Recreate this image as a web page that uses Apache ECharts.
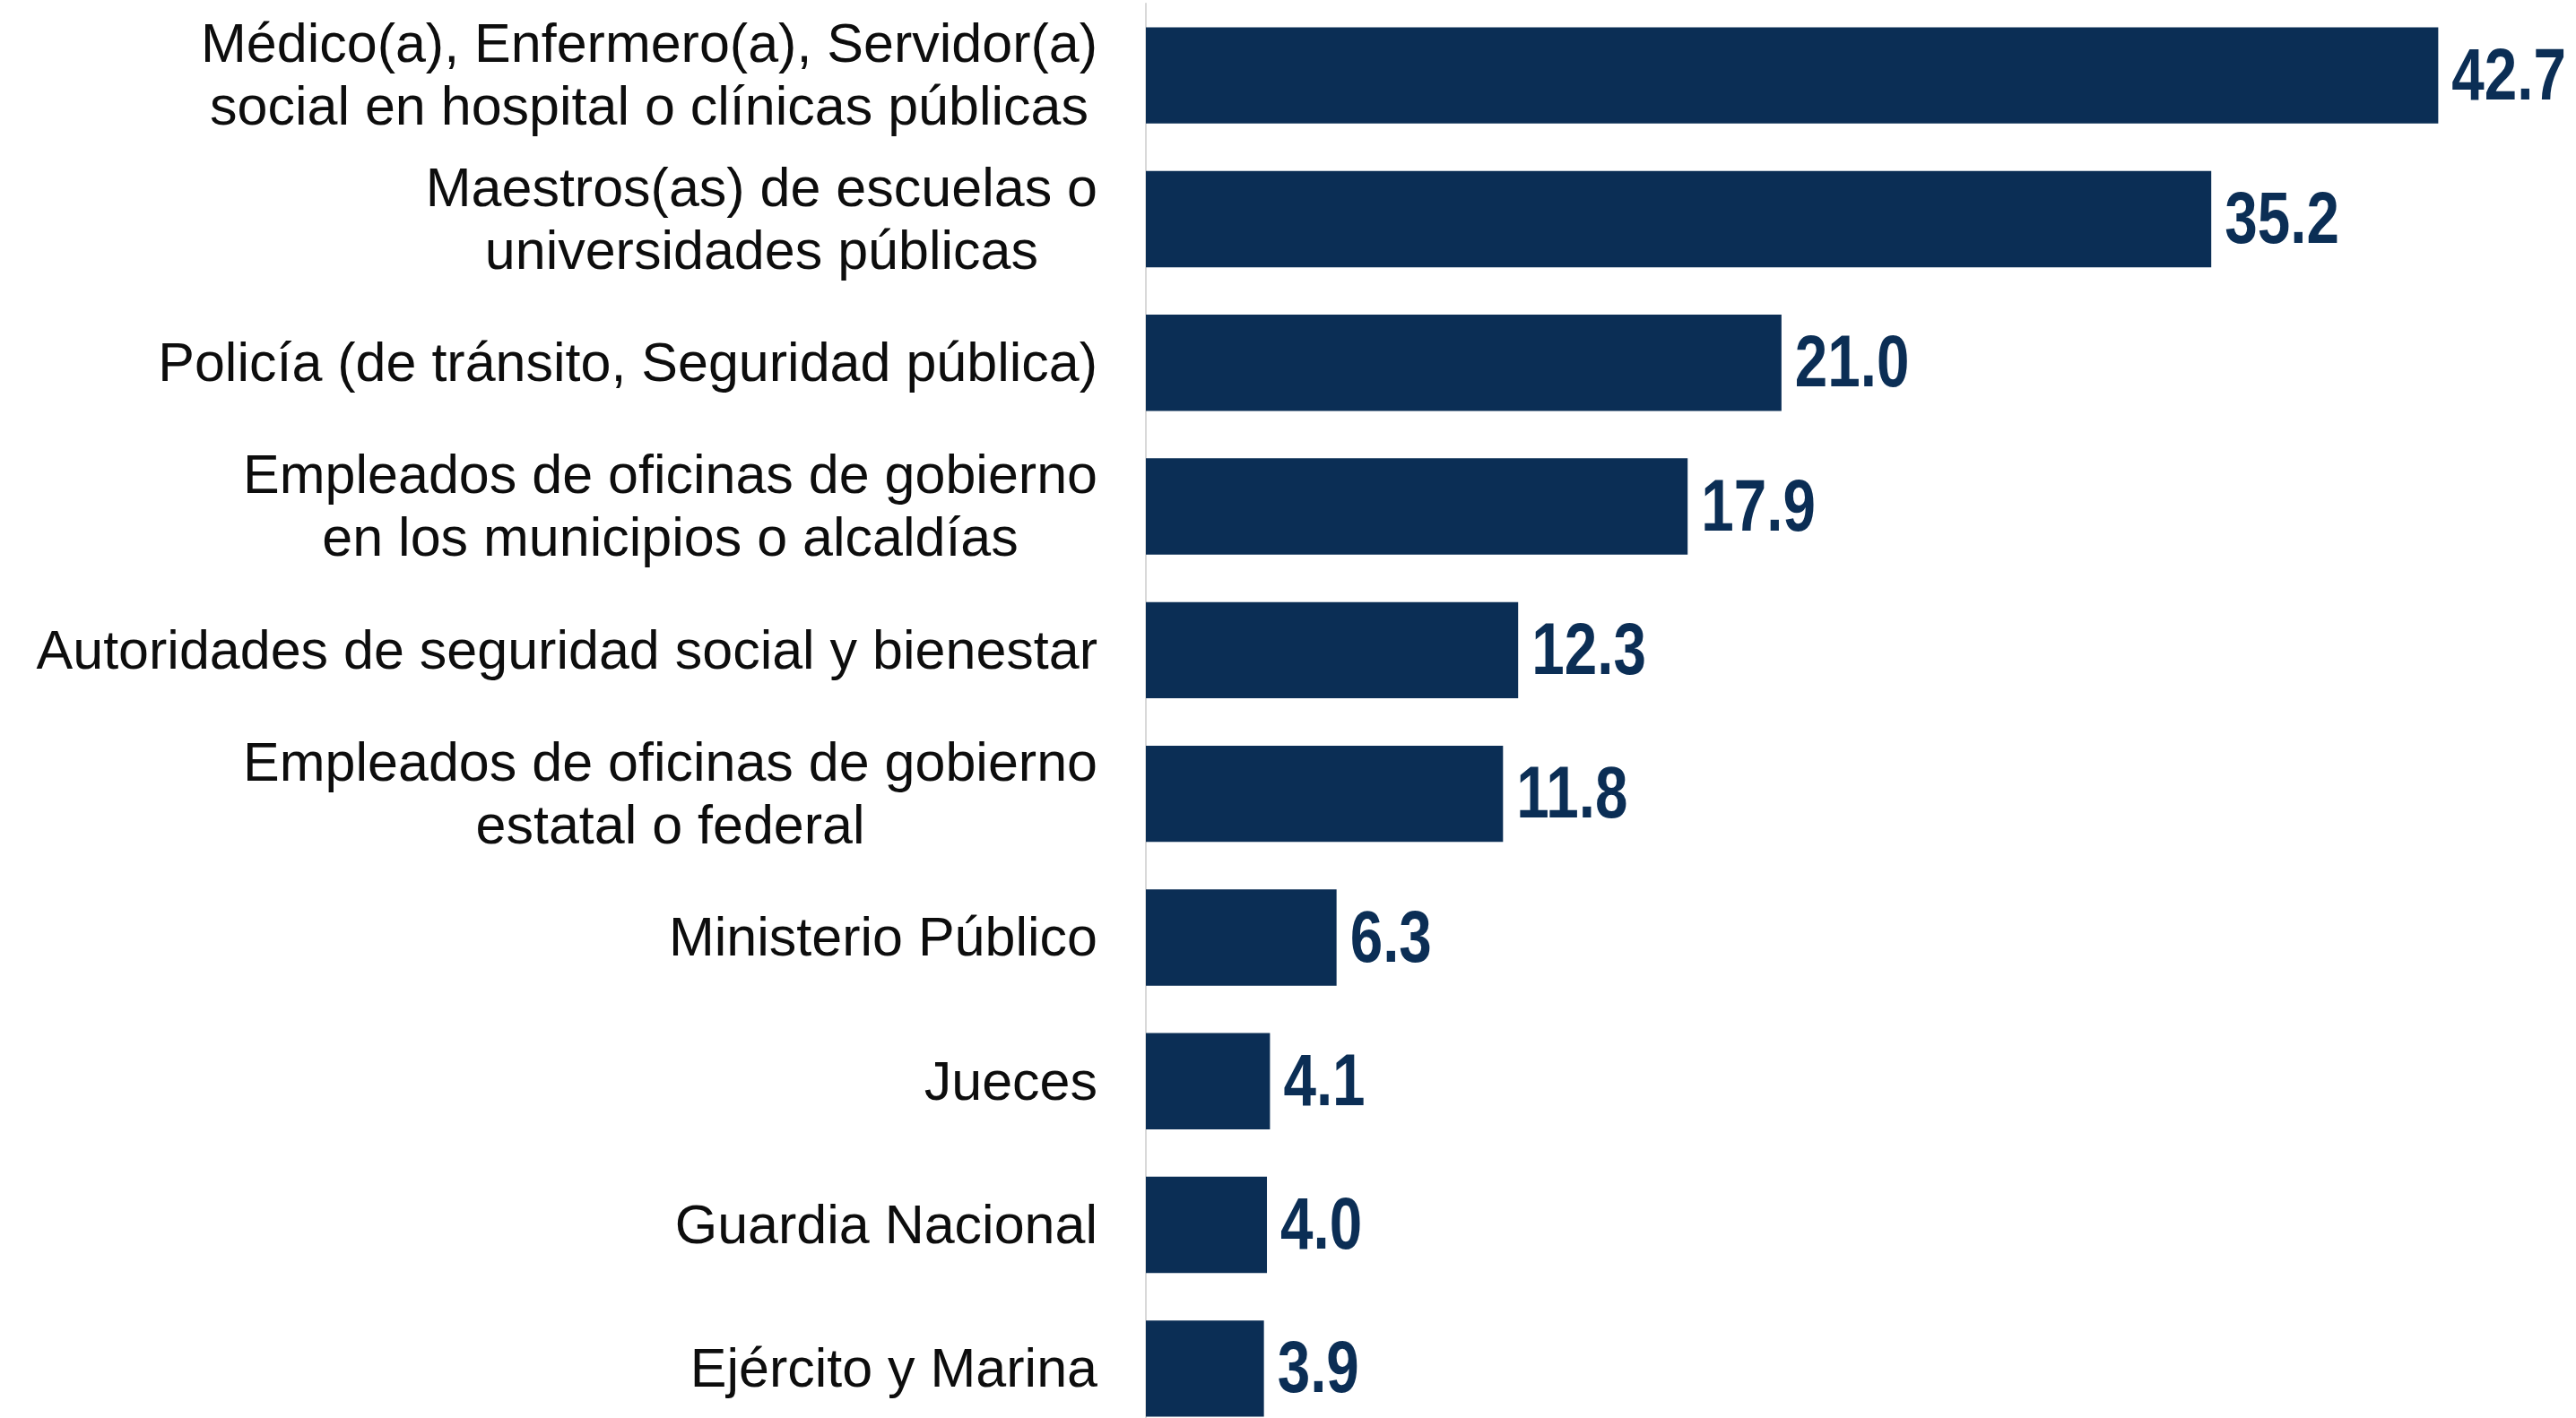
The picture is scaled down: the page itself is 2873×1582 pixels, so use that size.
<!DOCTYPE html>
<html>
<head>
<meta charset="utf-8">
<script src="https://cdn.jsdelivr.net/npm/echarts@6/dist/echarts.min.js"></script>
<style>
html,body{margin:0;padding:0;background:#fff;}
#chart{width:2873px;height:1582px;}
</style>
</head>
<body>
<div id="chart"></div>
<script>
var categories = [
  "Médico(a), Enfermero(a), Servidor(a)\nsocial en hospital o clínicas públicas",
  "Maestros(as) de escuelas o\nuniversidades públicas",
  "Policía (de tránsito, Seguridad pública)",
  "Empleados de oficinas de gobierno\nen los municipios o alcaldías",
  "Autoridades de seguridad social y bienestar",
  "Empleados de oficinas de gobierno\nestatal o federal",
  "Ministerio Público",
  "Jueces",
  "Guardia Nacional",
  "Ejército y Marina"
];
var values = [42.7, 35.2, 21.0, 17.9, 12.3, 11.8, 6.3, 4.1, 4.0, 3.9];

var NAVY = '#0b2e55';
var chart = echarts.init(document.getElementById('chart'));
chart.setOption({
  backgroundColor: '#ffffff',
  animation: false,
  grid: { left: 1278, right: 76, top: 4, height: 1603, containLabel: false, outerBoundsMode: 'none' },
  xAxis: {
    type: 'value', min: 0, max: 45, show: false
  },
  yAxis: {
    type: 'category',
    inverse: true,
    data: categories,
    axisLine: { show: true, lineStyle: { color: '#d9d9d9', width: 2 } },
    axisTick: { show: false },
    splitLine: { show: false },
    axisLabel: {
      margin: 54,
      color: '#0d0d0d',
      fontFamily: 'Liberation Sans, Arial, sans-serif',
      fontSize: 61,
      lineHeight: 70,
      padding: [7, 0, 0, 0],
      formatter: function (v) {
        return v.split('\n').map(function (s) { return '{c|' + s + '}'; }).join('\n');
      },
      rich: {
        c: {
          align: 'center',
          color: '#0d0d0d',
          fontFamily: 'Liberation Sans, Arial, sans-serif',
          fontSize: 61,
          lineHeight: 70
        }
      }
    }
  },
  series: [{
    type: 'bar',
    data: values,
    barCategoryGap: '33%',
    itemStyle: { color: NAVY },
    label: { show: false }
  }, {
    type: 'custom',
    clip: false,
    data: values.map(function (v, i) { return [v, i]; }),
    encode: { x: 0, y: 1 },
    renderItem: function (params, api) {
      var v = api.value(0);
      var pt = api.coord([v, api.value(1)]);
      return {
        type: 'text',
        x: pt[0] + 15,
        y: pt[1] + 4,
        scaleX: 0.8,
        style: {
          x: 0, y: 0,
          text: v.toFixed(1),
          fill: NAVY,
          font: 'bold 82px "Liberation Sans", Arial, sans-serif',
          textAlign: 'left',
          textVerticalAlign: 'middle'
        }
      };
    }
  }]
});
</script>
</body>
</html>
